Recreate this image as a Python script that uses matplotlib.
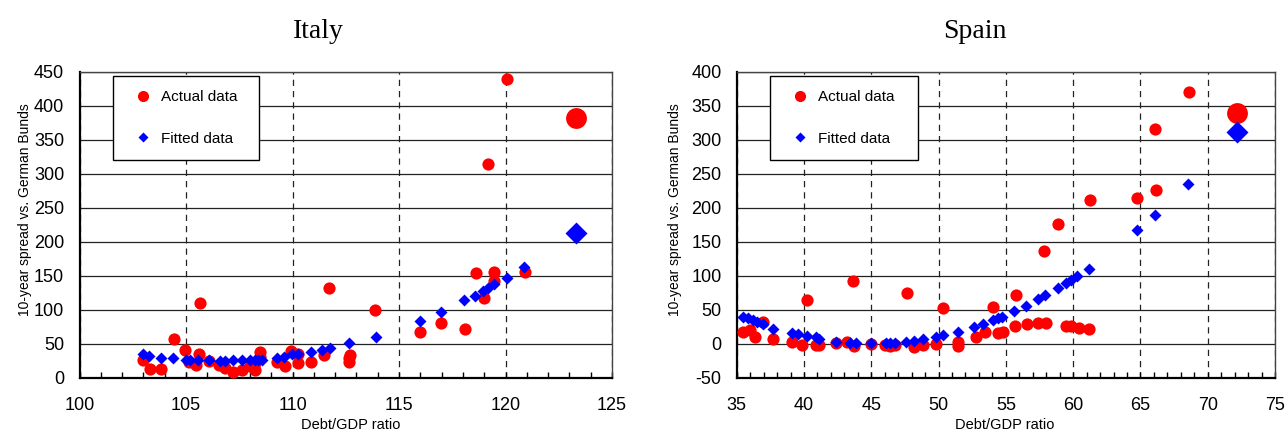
import matplotlib
matplotlib.use("Agg")
import matplotlib.pyplot as plt
from matplotlib.lines import Line2D
from matplotlib.ticker import MultipleLocator

plt.rcParams['font.family'] = ['Liberation Sans', 'DejaVu Sans']
plt.rcParams['axes.unicode_minus'] = False

# Italy
italy_actual_x = [102.97, 103.29, 103.81, 104.42, 104.97, 105.13, 105.45, 105.6, 105.65, 106.06,
                  106.53, 106.84, 107.23, 107.62, 108.0, 108.23, 108.23, 108.47, 108.47, 109.26,
                  109.65, 109.93, 110.28, 110.28, 110.87, 111.46, 111.73, 112.67, 112.7, 112.64,
                  113.85, 115.99, 116.97, 118.08, 118.6, 119.0, 119.18, 119.48, 119.48, 120.08, 120.91]
italy_actual_y = [26, 13, 13, 58, 41, 24, 19, 36, 110, 25,
                  19, 14, 9, 12, 17, 22, 12, 31, 38, 24,
                  17, 39, 36, 22, 24, 34, 132, 29, 34, 24,
                  100, 68, 81, 72, 154, 117, 314, 156, 143, 439, 156]
italy_fitted_x = [102.97, 103.28, 103.83, 104.41, 104.98, 105.2, 105.57, 106.06, 106.6, 106.84,
                  107.23, 107.62, 108.0, 108.23, 108.39, 108.55, 109.26, 109.6, 109.97, 110.28,
                  110.85, 111.38, 111.74, 112.67, 113.9, 115.99, 116.98, 118.05, 118.55, 118.96,
                  119.17, 119.48, 120.08, 120.86]
italy_fitted_y = [35, 33, 30, 29, 27, 27, 27, 26, 25, 25,
                  26, 26, 26, 27, 27, 27, 29, 31, 36, 36,
                  38, 41, 44, 51, 61, 84, 97, 114, 121, 128,
                  133, 138, 147, 163]
italy_latest_x = 123.3
italy_latest_actual = 383
italy_latest_fitted = 213

# Spain
spain_actual_x = [35.47, 35.97, 36.35, 36.97, 37.72, 39.09, 39.84, 40.26, 40.91, 41.1,
                  42.4, 43.2, 43.65, 43.75, 44.95, 46.0, 46.4, 46.8, 47.62, 48.19,
                  48.81, 49.81, 50.31, 51.48, 51.48, 52.8, 53.42, 54.05, 54.42, 54.77,
                  55.68, 55.74, 56.56, 57.42, 57.86, 57.99, 58.9, 59.48, 59.85, 60.4,
                  61.19, 61.24, 64.78, 66.05, 66.18, 68.59]
spain_actual_y = [17, 21, 10, 33, 7, 3, -1, 65, -1, -1,
                  1, 3, 92, -3, 0, -1, -3, -1, 75, -4,
                  -2, 0, 53, 3, -3, 10, 18, 55, 16, 18,
                  26, 72, 29, 31, 137, 31, 176, 27, 27, 24,
                  22, 212, 215, 316, 226, 370]
spain_fitted_x = [35.47, 35.85, 36.22, 36.5, 36.92, 37.72, 39.09, 39.59, 40.21, 40.91,
                  41.08, 42.4, 43.45, 43.83, 44.95, 46.07, 46.4, 46.8, 47.57, 48.19,
                  48.81, 49.81, 50.31, 51.48, 52.63, 53.3, 54.05, 54.42, 54.7, 55.63,
                  56.48, 57.42, 57.92, 58.84, 59.48, 59.83, 60.32, 61.19, 64.71, 66.05, 68.51]
spain_fitted_y = [40, 38, 35, 33, 30, 22, 16, 14, 12, 10,
                  8, 3, 2, 2, 1, 2, 1, 1, 3, 4,
                  7, 10, 13, 18, 25, 30, 35, 38, 40, 49,
                  56, 66, 72, 82, 89, 94, 100, 111, 167, 190, 235]
spain_latest_x = 72.15
spain_latest_actual = 339
spain_latest_fitted = 312

RED = '#ff0000'
BLUE = '#0000ff'


def draw_panel(ax, ax_x, ay, fx, fy, lx, la, lf, xlim, ylim, legend_x):
    ax.plot(ax_x, ay, 'o', color=RED, ms=8.8, mec='none', zorder=3)
    ax.plot(fx, fy, 'D', color=BLUE, ms=6.4, mec='none', zorder=4)
    ax.plot([lx], [la], 'o', color=RED, ms=15, mec='none', zorder=3)
    ax.plot([lx], [lf], 'D', color=BLUE, ms=11, mec='none', zorder=4)

    ax.set_xlim(*xlim)
    ax.set_ylim(*ylim)
    ax.xaxis.set_major_locator(MultipleLocator(5))
    ax.xaxis.set_minor_locator(MultipleLocator(1))
    ax.yaxis.set_major_locator(MultipleLocator(50))

    # grid: solid horizontal, dashed vertical
    ax.grid(axis='y', color='#222222', lw=0.9, ls='-')
    ax.grid(axis='x', color='#222222', lw=0.9, ls=(0, (5, 4)))
    ax.set_axisbelow(True)

    ax.tick_params(axis='x', which='major', direction='in', length=4, width=1,
                   labelsize=13, pad=14)
    ax.tick_params(axis='x', which='minor', direction='in', length=4, width=1)
    ax.tick_params(axis='y', length=0, labelsize=13, pad=11)

    for side in ['left', 'bottom']:
        ax.spines[side].set_linewidth(1.6)
    for side in ['top', 'right']:
        ax.spines[side].set_linewidth(1.0)
        ax.spines[side].set_color('#444444')

    ax.set_xlabel('Debt/GDP ratio', fontsize=10.5)
    ax.set_ylabel('10-year spread vs. German Bunds', fontsize=10)

    handles = [Line2D([], [], marker='o', ls='none', color=RED, mec='none', ms=8),
               Line2D([], [], marker='D', ls='none', color=BLUE, mec='none', ms=5)]
    leg = ax.legend(handles, ['Actual data', 'Fitted data'], loc='upper left',
                    bbox_to_anchor=(legend_x, 0.987, 0.274, 0.0), mode='expand',
                    borderaxespad=0, borderpad=0.95, labelspacing=1.78,
                    handlelength=2.0, handletextpad=0.2, fontsize=11,
                    fancybox=False, framealpha=1, edgecolor='black')
    leg.get_frame().set_linewidth(1.0)
    return ax


def main():
    fig = plt.figure(figsize=(12.87, 4.33), dpi=100)
    W, H = 1287.0, 433.0

    ax1 = fig.add_axes([79.5 / W, (H - 378) / H, 532.5 / W, 306 / H])
    draw_panel(ax1, italy_actual_x, italy_actual_y, italy_fitted_x, italy_fitted_y,
               italy_latest_x, italy_latest_actual, italy_latest_fitted,
               (100, 125), (0, 450), 0.063)
    ax1.yaxis.set_label_coords(-0.089, 0.549)
    ax1.xaxis.set_label_coords(0.51, -0.132)

    ax2 = fig.add_axes([736.7 / W, (H - 378) / H, 538.3 / W, 306 / H])
    draw_panel(ax2, spain_actual_x, spain_actual_y, spain_fitted_x, spain_fitted_y,
               spain_latest_x, spain_latest_actual, spain_latest_fitted,
               (35, 75), (-50, 400), 0.062)
    ax2.yaxis.set_label_coords(-0.102, 0.549)
    ax2.xaxis.set_label_coords(0.498, -0.132)

    fig.text(318 / W, 1 - 38 / H, 'Italy', ha='center', va='baseline', fontsize=20,
             family=['Liberation Serif', 'DejaVu Serif'])
    fig.text(975 / W, 1 - 38 / H, 'Spain', ha='center', va='baseline', fontsize=20,
             family=['Liberation Serif', 'DejaVu Serif'])

    fig.savefig('out.png', dpi=100)


if __name__ == "__main__":
    main()
